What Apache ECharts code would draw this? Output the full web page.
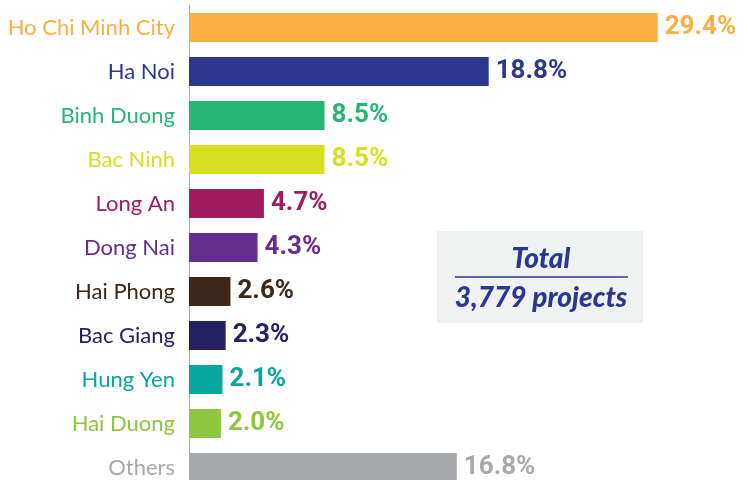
<!DOCTYPE html>
<html>
<head>
<meta charset="utf-8">
<script src="https://cdn.jsdelivr.net/npm/echarts@6/dist/echarts.min.js"></script>
<style>
  html, body { margin: 0; padding: 0; background: #fff; }
  #chart { width: 748px; height: 480px; }
</style>
</head>
<body>
<div id="chart"></div>
<script>
// provinces by share of projects (%)
const provinces = ['Ho Chi Minh City', 'Ha Noi', 'Binh Duong', 'Bac Ninh', 'Long An',
  'Dong Nai', 'Hai Phong', 'Bac Giang', 'Hung Yen', 'Hai Duong', 'Others']
const shares = [29.4, 18.8, 8.5, 8.5, 4.7, 4.3, 2.6, 2.3, 2.1, 2.0, 16.8]
const totalProjects = '3,779'

const palette = ['#FBAF41', '#2C388F', '#27B574', '#D7DF23', '#A01C5F',
  '#662D91', '#3E2718', '#262262', '#07A79D', '#8DC63F', '#A7A9AC']

const chart = echarts.init(document.getElementById('chart'))

chart.setOption({
  animation: false,
  grid: { left: 189, width: 542, top: 5.5, height: 484, outerBoundsMode: 'none', containLabel: false },
  xAxis: {
    type: 'value',
    min: 0,
    max: 34,
    show: false
  },
  yAxis: {
    type: 'category',
    inverse: true,
    data: provinces,
    axisTick: { show: false },
    axisLine: { show: true, lineStyle: { color: '#ABABAB', width: 1 } },
    axisLabel: {
      margin: 14,
      fontFamily: 'Lato',
      fontSize: 22,
      color: function(value, index) {
        return palette[index]
      }
    }
  },
  series: [{
    type: 'bar',
    barWidth: 29,
    data: shares.map((v, i) => ({
      value: v,
      itemStyle: { color: palette[i] },
      label: { color: palette[i] }
    })),
    label: {
      show: true,
      position: 'right',
      distance: 7,
      fontFamily: 'Roboto',
      fontWeight: 'bold',
      fontSize: 26,
      formatter: p => p.value.toFixed(1) + '%'
    }
  }],
  graphic: [
    {
      type: 'rect',
      shape: { x: 437, y: 231, width: 206, height: 92 },
      style: { fill: '#F0F1F1' }
    },
    {
      type: 'text',
      style: {
        text: 'Total',
        x: 541,
        y: 259,
        align: 'center',
        verticalAlign: 'middle',
        fill: '#2C388F',
        font: 'italic 900 28px Lato'
      }
    },
    {
      type: 'line',
      shape: { x1: 455, y1: 277, x2: 628, y2: 277 },
      style: { stroke: '#2C388F', lineWidth: 1.5 }
    },
    {
      type: 'text',
      style: {
        text: totalProjects + ' projects',
        x: 541,
        y: 298,
        align: 'center',
        verticalAlign: 'middle',
        fill: '#2C388F',
        font: 'italic 900 28px Lato'
      }
    }
  ]
})
</script>
</body>
</html>
